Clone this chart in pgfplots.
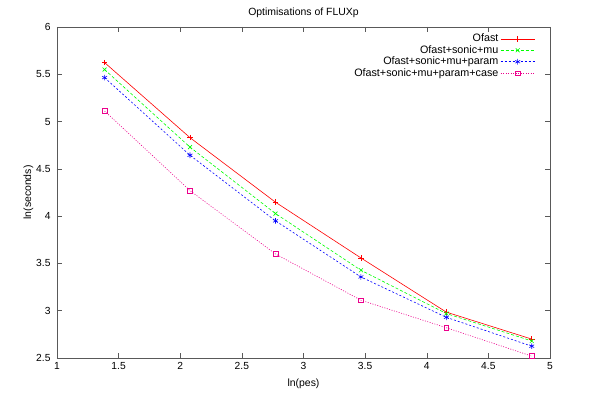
\documentclass[border=0pt]{standalone}
\usepackage{pgfplots}
\pgfplotsset{compat=1.18}
\usepackage{fontspec}
\setmainfont{Liberation Sans}
\begin{document}
\begin{tikzpicture}
\begin{axis}[
  name=ax, at={(0,0)}, anchor=south west,
  scale only axis, width=493bp, height=331bp,
  xmin=1, xmax=5, ymin=2.5, ymax=6,
  xtick={1,1.5,...,5}, ytick={2.5,3,...,6},
  xticklabels={1,1.5,2,2.5,3,3.5,4,4.5,5},
  yticklabels={2.5,3,3.5,4,4.5,5,5.5,6},
  /pgf/number format/assume math mode=true,
  tick align=inside, major tick length=5bp,
  axis line style={black!65, line width=0.5bp},
  tick style={black!65, line width=0.5bp},
  every tick label/.append style={font=\fontsize{10.3}{12}\selectfont},
  xticklabel style={yshift=-0.5bp},
  yticklabel style={xshift=-3bp},
  title={Optimisations of FLUXp},
  title style={font=\fontsize{10.5}{12}\selectfont, yshift=0bp},
  xlabel={ln(pes)}, ylabel={ln(seconds)},
  label style={font=\fontsize{10.5}{12}\selectfont},
  xlabel style={yshift=-3bp},
  ylabel style={yshift=-4bp},
  legend style={draw=none, fill=none, at={(0.972,0.988)}, anchor=north east,
    font=\fontsize{10.8}{12}\selectfont, row sep=-1.8bp, inner sep=1bp},
  legend cell align=right,
  legend plot pos=right,
  legend image code/.code={
    \draw[mark repeat=2,mark phase=2] plot coordinates {(0cm,0cm) (0.6cm,0cm) (1.2cm,0cm)};
  },
]
\addplot[color=red, line width=0.6bp, mark=+, mark size=2.8bp, mark options={solid}]
  coordinates {(1.386,5.624) (2.079,4.83) (2.773,4.147) (3.466,3.558) (4.159,2.985) (4.852,2.70)};
\addlegendentry{Ofast}
\addplot[color=green, line width=0.6bp, dash pattern=on 3bp off 2bp, mark=x, mark size=2.8bp, mark options={solid}]
  coordinates {(1.386,5.55) (2.079,4.73) (2.773,4.027) (3.466,3.428) (4.159,2.97) (4.852,2.68)};
\addlegendentry{Ofast+sonic+mu}
\addplot[color=blue, line width=0.6bp, dash pattern=on 2bp off 2bp, mark=asterisk, mark size=2.8bp, mark options={solid}]
  coordinates {(1.386,5.465) (2.079,4.644) (2.773,3.95) (3.466,3.357) (4.159,2.93) (4.852,2.625)};
\addlegendentry{Ofast+sonic+mu+param}
\addplot[color=magenta, line width=0.6bp, dash pattern=on 1bp off 1.5bp, mark=square, mark size=2.4bp, mark options={solid}]
  coordinates {(1.386,5.112) (2.079,4.27) (2.773,3.60) (3.466,3.111) (4.159,2.82) (4.852,2.52)};
\addlegendentry{Ofast+sonic+mu+param+case}
\end{axis}
\pgfresetboundingbox
\path[use as bounding box] (-57bp,-38bp) rectangle (543bp,358bp);
\end{tikzpicture}
\end{document}
